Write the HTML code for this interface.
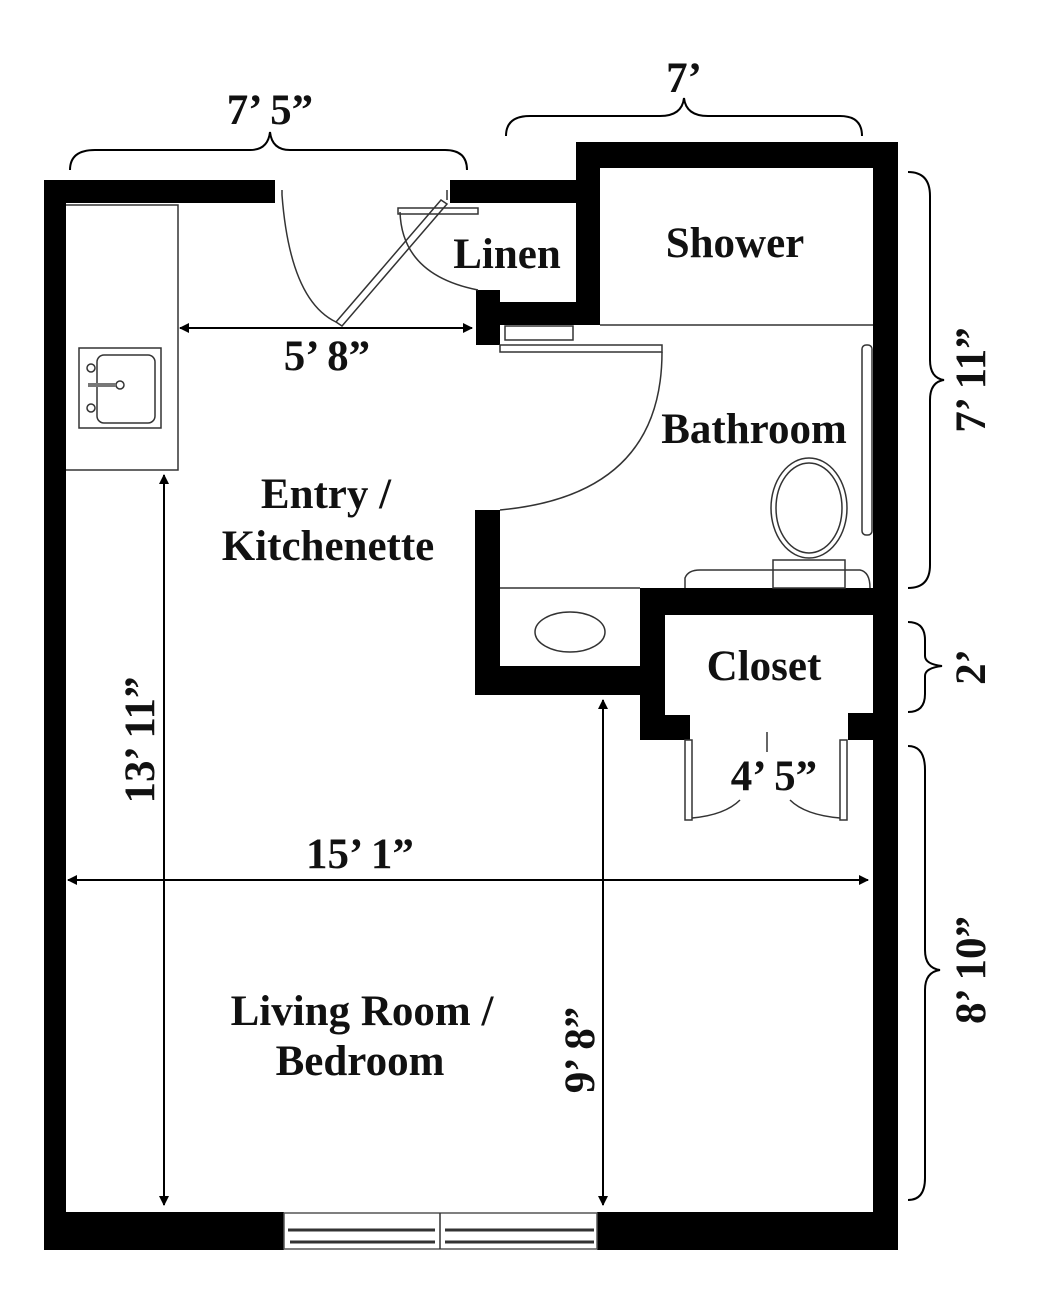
<!DOCTYPE html>
<html><head><meta charset="utf-8"><style>
html,body{margin:0;padding:0;background:#fff;}
svg{display:block;}
text{font-family:"Liberation Serif",serif;font-weight:bold;fill:#111;}
</style></head><body>
<svg width="1044" height="1301" viewBox="0 0 1044 1301" xmlns="http://www.w3.org/2000/svg">
<defs>
<marker id="ah" markerWidth="10" markerHeight="10" refX="9" refY="5" orient="auto-start-reverse" markerUnits="userSpaceOnUse">
<path d="M0,0 L10,5 L0,10 z" fill="#000"/></marker>
</defs>
<g fill="#000">
<rect x="44" y="180" width="22" height="1070"/>
<rect x="44" y="180" width="231" height="23"/>
<rect x="450" y="180" width="150" height="23"/>
<rect x="578" y="142" width="320" height="26"/>
<rect x="576" y="142" width="24" height="183"/>
<rect x="476" y="302" width="124" height="23"/>
<rect x="476" y="290" width="24" height="55"/>
<rect x="873" y="142" width="25" height="1108"/>
<rect x="475" y="510" width="25" height="185"/>
<rect x="475" y="666" width="190" height="29"/>
<rect x="640" y="588" width="258" height="27"/>
<rect x="640" y="588" width="25" height="152"/>
<rect x="640" y="715" width="50" height="25"/>
<rect x="848" y="713" width="50" height="27"/>
<rect x="44" y="1212" width="240" height="38"/>
<rect x="597" y="1212" width="301" height="38"/>
</g>
<g fill="none" stroke="#333" stroke-width="1.5">
<polyline points="66,205 178,205 178,470 66,470"/>
<rect x="79" y="348" width="82" height="80"/>
<rect x="97" y="355" width="58" height="68" rx="7"/>
<circle cx="91" cy="368" r="4"/><circle cx="91" cy="408" r="4"/><circle cx="120" cy="385" r="4"/>
<line x1="88" y1="385" x2="116" y2="385" stroke-width="4" stroke="#777"/>
<path d="M282,195 Q290,300 336,322"/>
<path d="M336,322 L441,200 L447,204 L342,326 z"/>
<path d="M447,200 L447,190"/><path d="M282,190 L282,195"/>
<rect x="398" y="208" width="80" height="6"/>
<path d="M400,212 Q402,275 478,290"/>
<rect x="500" y="345" width="162" height="7"/>
<path d="M662,352 Q662,495 500,510"/>
<rect x="505" y="326" width="68" height="14"/>
<line x1="600" y1="325" x2="873" y2="325"/>
<rect x="862" y="345" width="10" height="190" rx="4"/>
<ellipse cx="809" cy="508" rx="38" ry="50"/>
<ellipse cx="809" cy="508" rx="33" ry="45"/>
<rect x="773" y="560" width="72" height="28"/>
<path d="M685,588 L685,578 Q688,570 700,570 L860,570 Q870,572 870,588"/>
<line x1="500" y1="588" x2="640" y2="588"/>
<ellipse cx="570" cy="632" rx="35" ry="20"/>
<rect x="685" y="740" width="7" height="80"/>
<path d="M692,818 Q725,815 740,800"/>
<rect x="840" y="740" width="7" height="80"/>
<path d="M840,818 Q805,815 790,800"/>
<line x1="767" y1="732" x2="767" y2="752"/>
<rect x="284" y="1213" width="313" height="36" stroke="#555"/>
<line x1="288" y1="1230" x2="435" y2="1230" stroke-width="3"/>
<line x1="445" y1="1230" x2="594" y2="1230" stroke-width="3"/>
<line x1="290" y1="1242" x2="435" y2="1242" stroke-width="3"/>
<line x1="445" y1="1242" x2="594" y2="1242" stroke-width="3"/>
<line x1="440" y1="1213" x2="440" y2="1249"/>
</g>
<g stroke="#000" stroke-width="2" fill="none">
<line x1="180" y1="328" x2="472" y2="328" marker-start="url(#ah)" marker-end="url(#ah)"/>
<line x1="164" y1="475" x2="164" y2="1205" marker-start="url(#ah)" marker-end="url(#ah)"/>
<line x1="603" y1="700" x2="603" y2="1205" marker-start="url(#ah)" marker-end="url(#ah)"/>
<line x1="68" y1="880" x2="868" y2="880" marker-start="url(#ah)" marker-end="url(#ah)"/>
<path d="M70,170 Q70,150 95,150 L250,150 Q268,150 270,132 Q272,150 290,150 L445,150 Q467,150 467,170"/>
<path d="M506,136 Q506,116 530,116 L660,116 Q682,116 684,98 Q686,116 708,116 L840,116 Q862,116 862,136"/>
<path d="M908,172 Q930,172 930,196 L930,360 Q930,378 944,380 Q930,382 930,400 L930,565 Q930,588 908,588"/>
<path d="M908,622 Q925,622 925,640 L925,656 Q925,664 942,666 Q925,668 925,676 L925,694 Q925,712 908,712"/>
<path d="M908,746 Q925,746 925,770 L925,950 Q925,968 940,970 Q925,972 925,990 L925,1178 Q925,1200 908,1200"/>
</g>
<g font-size="43">
<text x="270" y="124" text-anchor="middle">7’ 5”</text>
<text x="684" y="92" text-anchor="middle">7’</text>
<text x="507" y="268" text-anchor="middle">Linen</text>
<text x="735" y="257" text-anchor="middle">Shower</text>
<text x="327" y="370" text-anchor="middle">5’ 8”</text>
<text x="754" y="443" text-anchor="middle">Bathroom</text>
<text x="326" y="508" text-anchor="middle">Entry /</text>
<text x="328" y="560" text-anchor="middle">Kitchenette</text>
<text x="764" y="680" text-anchor="middle">Closet</text>
<text x="774" y="790" text-anchor="middle">4’ 5”</text>
<text x="360" y="868" text-anchor="middle">15’ 1”</text>
<text x="362" y="1025" text-anchor="middle">Living Room /</text>
<text x="360" y="1075" text-anchor="middle">Bedroom</text>
<text transform="translate(154,740) rotate(-90)" text-anchor="middle">13’ 11”</text>
<text transform="translate(594,1050) rotate(-90)" text-anchor="middle">9’ 8”</text>
<text transform="translate(985,380) rotate(-90)" text-anchor="middle">7’ 11”</text>
<text transform="translate(985,667) rotate(-90)" text-anchor="middle">2’</text>
<text transform="translate(985,970) rotate(-90)" text-anchor="middle">8’ 10”</text>
</g>
</svg>
</body></html>
